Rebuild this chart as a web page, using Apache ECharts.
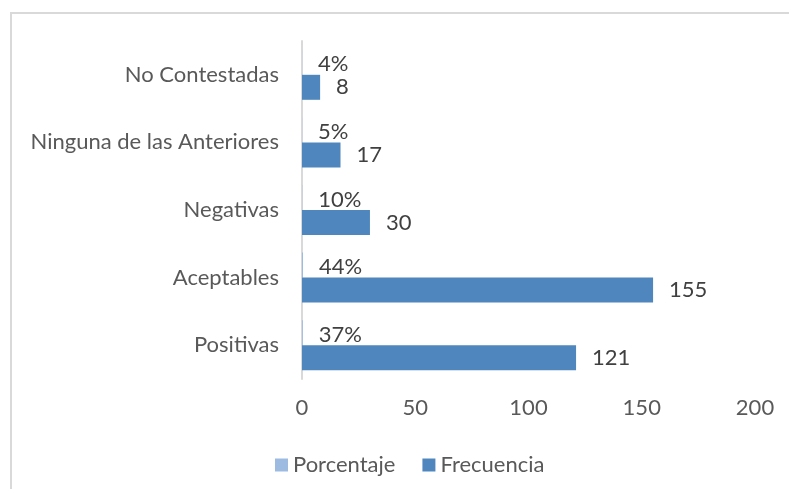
<!DOCTYPE html>
<html>
<head>
<meta charset="utf-8">
<script src="https://cdn.jsdelivr.net/npm/echarts@6/dist/echarts.min.js"></script>
<style>
  html, body { margin: 0; padding: 0; background: #fff; }
  #frame { position: absolute; left: 10px; top: 12px; width: 800px; height: 500px; border: 2px solid #d9d9d9; box-sizing: border-box; }
  #chart { position: absolute; left: 0; top: 0; width: 789px; height: 489px; }
</style>
</head>
<body>
<div id="frame"></div>
<div id="chart"></div>
<script>
const categories = ['Positivas', 'Aceptables', 'Negativas', 'Ninguna de las Anteriores', 'No Contestadas'];
const porcentaje = [0.37, 0.44, 0.10, 0.05, 0.04];
const frecuencia = [121, 155, 30, 17, 8];
const xTicks = { min: 0, max: 200, interval: 50 };

const FONT = 'Lato';
const FS = 22;
const TXT = '#595959';
const chart = echarts.init(document.getElementById('chart'), null, { renderer: 'canvas' });
chart.setOption({
  backgroundColor: 'transparent',
  animation: false,
  textStyle: { fontFamily: FONT },
  legend: {
    left: 270, top: 449,
    itemWidth: 13, itemHeight: 13, itemGap: 27,
    icon: 'rect',
    textStyle: { fontFamily: FONT, fontSize: FS, color: TXT, padding: [0, 0, 0, 0] },
    data: ['Porcentaje', 'Frecuencia']
  },
  grid: { left: 302, right: 34, top: 41, bottom: 110, containLabel: false },
  xAxis: {
    type: 'value', min: xTicks.min, max: xTicks.max, interval: xTicks.interval,
    axisLine: { show: false }, axisTick: { show: false }, splitLine: { show: false },
    axisLabel: { color: TXT, fontSize: FS, fontFamily: FONT, margin: 18 }
  },
  yAxis: {
    type: 'category', data: categories,
    axisLine: { show: true, lineStyle: { color: '#d9d9d9', width: 2 } },
    axisTick: { show: false },
    axisLabel: { color: TXT, fontSize: FS, fontFamily: FONT, margin: 23 }
  },
  series: [
    {
      name: 'Porcentaje', type: 'bar', data: porcentaje,
      barWidth: 25, barGap: '0%',
      itemStyle: { color: '#9dbbe0' },
      label: { show: true, position: 'right', distance: 16, color: '#404040', fontSize: FS, fontFamily: FONT,
        offset: [0, 2],
        formatter: p => Math.round(p.value * 100) + '%' }
    },
    {
      name: 'Frecuencia', type: 'bar', data: frecuencia,
      barWidth: 25, barGap: '0%',
      itemStyle: { color: '#4f86bd' },
      label: { show: true, position: 'right', distance: 16, color: '#404040', fontSize: FS, fontFamily: FONT }
    }
  ]
});
</script>
</body>
</html>
